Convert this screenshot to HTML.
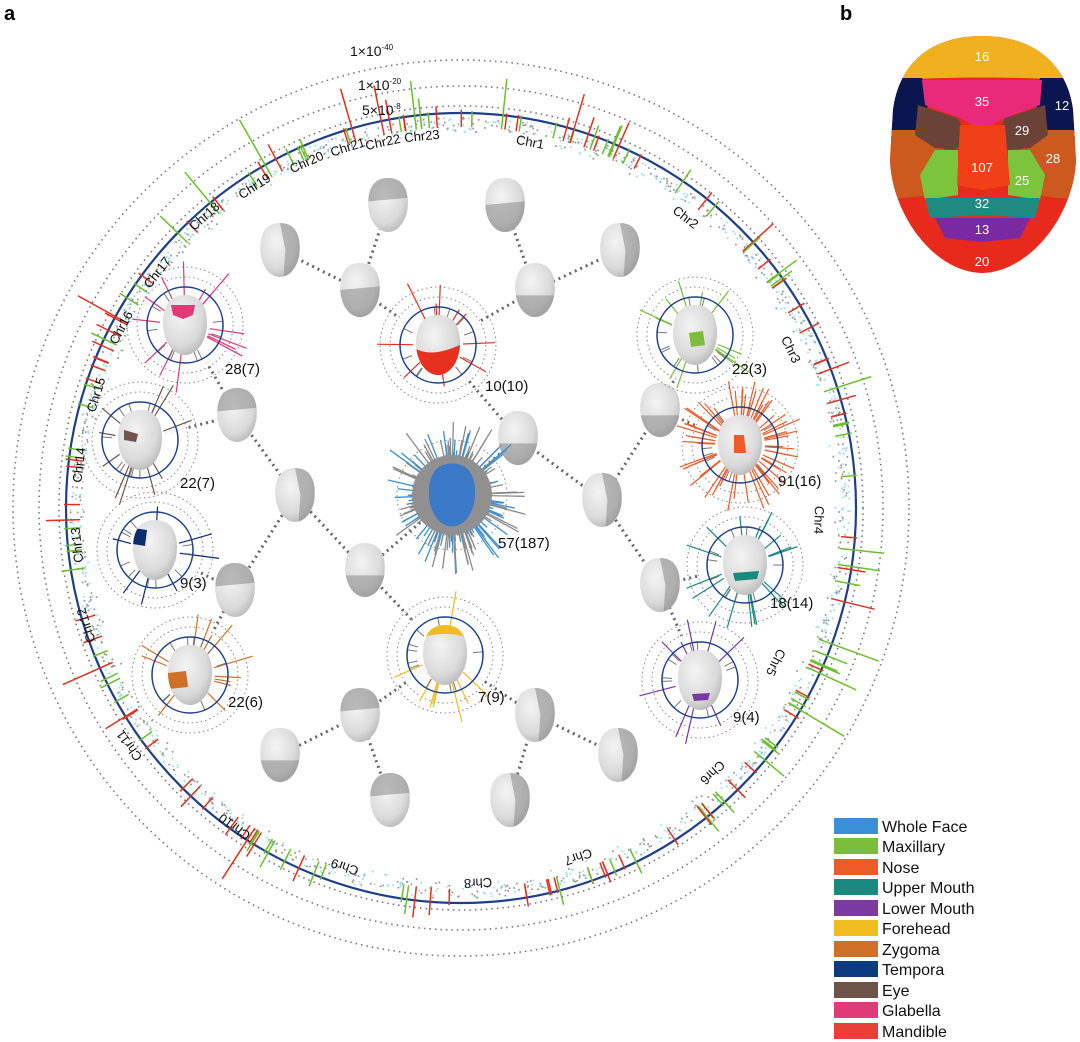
<!DOCTYPE html>
<html><head><meta charset="utf-8">
<style>
html,body{margin:0;padding:0;background:#fff;}
svg{display:block;font-family:"Liberation Sans",sans-serif;}
</style></head>
<body>
<svg id="s" width="1080" height="1042" viewBox="0 0 1080 1042" xmlns="http://www.w3.org/2000/svg">
<defs>
<clipPath id="fc"><path d="M982,36 C1040,36 1068,70 1073,110 L1076,160 C1074,215 1030,272 982,273 C934,272 892,215 890,160 L893,110 C898,70 924,36 982,36Z"/></clipPath>
<clipPath id="hc"><path d="M0,-30 C16,-30 22,-18 22,-2 C22,16 12,30 0,30 C-12,30 -22,16 -22,-2 C-22,-18 -16,-30 0,-30Z"/></clipPath>
<radialGradient id="fg" cx="0.4" cy="0.35" r="0.7"><stop offset="0" stop-color="#f4f4f4"/><stop offset="0.7" stop-color="#dadada"/><stop offset="1" stop-color="#b8b8b8"/></radialGradient>
</defs>
<text x="4" y="20" font-size="20" font-weight="bold">a</text>
<text x="840" y="20" font-size="20" font-weight="bold">b</text>
<g id="ring"></g>
<g id="links" stroke="#666" stroke-width="3" stroke-dasharray="2,4" fill="none"></g>
<g id="nodes"></g>
<g font-size="14" fill="#111">
<text x="350" y="56">1×10<tspan font-size="8" dy="-6">-40</tspan></text>
<text x="358" y="90">1×10<tspan font-size="8" dy="-6">-20</tspan></text>
<text x="362" y="115">5×10<tspan font-size="8" dy="-6">-8</tspan></text>
</g>
<g id="chr" font-size="13" fill="#111"></g>
<g font-size="15" fill="#111">
<text x="485" y="391">10(10)</text>
<text x="498" y="548">57(187)</text>
<text x="225" y="374">28(7)</text>
<text x="180" y="488">22(7)</text>
<text x="180" y="588">9(3)</text>
<text x="228" y="707">22(6)</text>
<text x="478" y="702">7(9)</text>
<text x="732" y="374">22(3)</text>
<text x="778" y="486">91(16)</text>
<text x="770" y="608">18(14)</text>
<text x="733" y="722">9(4)</text>
</g>
<g clip-path="url(#fc)">
<rect x="880" y="30" width="200" height="250" fill="#e82a1c"/>
<path d="M880,30 H1080 V82 C1040,76 925,76 880,82Z" fill="#f0b020"/>
<path d="M880,78 L922,78 L930,95 L920,140 L880,140Z" fill="#0b1550"/>
<path d="M1080,78 L1040,78 L1035,100 L1045,140 L1080,140Z" fill="#0b1550"/>
<path d="M880,130 L918,130 L945,150 L935,195 L880,200Z" fill="#cc5a1e"/>
<path d="M1080,130 L1045,130 L1020,150 L1030,195 L1080,200Z" fill="#cc5a1e"/>
<path d="M922,80 L1042,80 L1040,105 L1005,118 L982,130 L960,118 L925,105Z" fill="#e82a78"/>
<path d="M918,105 L958,118 L968,138 L955,150 L935,148 L915,135Z" fill="#6b4238"/>
<path d="M1045,105 L1005,118 L995,138 L1008,150 L1030,148 L1048,135Z" fill="#6b4238"/>
<path d="M958,150 L935,150 L920,175 L925,200 L958,195Z" fill="#7cc43c"/>
<path d="M1008,150 L1030,150 L1045,175 L1040,200 L1008,195Z" fill="#7cc43c"/>
<path d="M925,198 L1040,198 L1035,218 L982,215 L930,218Z" fill="#1f8a80"/>
<path d="M935,218 L1030,218 L1020,238 L982,242 L945,238Z" fill="#7a2aa0"/>
<path d="M960,125 L1005,125 L1010,185 L982,190 L957,185Z" fill="#f04018"/>
</g>
<g font-size="13" fill="#fff" text-anchor="middle">
<text x="982" y="61">16</text><text x="982" y="106">35</text><text x="1062" y="110">12</text>
<text x="1022" y="135">29</text><text x="1053" y="163">28</text><text x="982" y="172">107</text>
<text x="1022" y="185">25</text><text x="982" y="208">32</text><text x="982" y="234">13</text>
<text x="982" y="266">20</text>
</g>
<g font-size="16" fill="#111">
<rect x="834" y="818" width="44" height="16" fill="#3b8fd6"/><text x="882" y="832">Whole Face</text>
<rect x="834" y="838" width="44" height="16" fill="#7cbd3c"/><text x="882" y="852">Maxillary</text>
<rect x="834" y="859" width="44" height="16" fill="#ee5a28"/><text x="882" y="873">Nose</text>
<rect x="834" y="879" width="44" height="16" fill="#1a8a7e"/><text x="882" y="893">Upper Mouth</text>
<rect x="834" y="900" width="44" height="16" fill="#7a3aa0"/><text x="882" y="914">Lower Mouth</text>
<rect x="834" y="920" width="44" height="16" fill="#f0bc20"/><text x="882" y="934">Forehead</text>
<rect x="834" y="941" width="44" height="16" fill="#d07028"/><text x="882" y="955">Zygoma</text>
<rect x="834" y="961" width="44" height="16" fill="#0c3c80"/><text x="882" y="975">Tempora</text>
<rect x="834" y="982" width="44" height="16" fill="#6e5448"/><text x="882" y="996">Eye</text>
<rect x="834" y="1002" width="44" height="16" fill="#e03a78"/><text x="882" y="1016">Glabella</text>
<rect x="834" y="1023" width="44" height="16" fill="#e84038"/><text x="882" y="1037">Mandible</text>
</g>
</svg>
<script>
(function(){
var NS="http://www.w3.org/2000/svg";
function el(p,t,a){var e=document.createElementNS(NS,t);for(var k in a)e.setAttribute(k,a[k]);p.appendChild(e);return e;}
var seed=7;function r(){seed=(seed*16807)%2147483647;return seed/2147483647;}
var CX=461,CY=508,R=395;
var ring=document.getElementById('ring');
[402,422,448].forEach(function(rr){el(ring,'circle',{cx:CX,cy:CY,r:rr,fill:'none',stroke:'#777','stroke-width':1.6,'stroke-dasharray':'1.5,4'});});
for(var i=0;i<1400;i++){var a=r()*Math.PI*2;var rr=R-4-r()*12*(r()<0.3?1.5:1);
 el(ring,'circle',{cx:CX+rr*Math.cos(a),cy:CY+rr*Math.sin(a),r:1,fill:r()<0.5?'#9adfe8':'#999'});}
el(ring,'circle',{cx:CX,cy:CY,r:R,fill:'none',stroke:'#1d3f8a','stroke-width':2.2});
for(var i=0;i<170;i++){var a=r()*Math.PI*2;var l=2+Math.pow(r(),4)*50;var c=r()<0.5?'#e03020':'#6cbf2c';var c1=Math.cos(a),s1=Math.sin(a);
 el(ring,'line',{x1:CX+(R-14)*c1,y1:CY+(R-14)*s1,x2:CX+(R+l)*c1,y2:CY+(R+l)*s1,stroke:c,'stroke-width':1.5});}
var chr=document.getElementById('chr');
var labs=[['Chr1',530,143],['Chr2',685,218],['Chr3',790,350],['Chr4',818,520],['Chr5',775,662],['Chr6',712,772],['Chr7',578,856],['Chr8',478,882],['Chr9',345,866],['Chr10',235,826],['Chr11',130,745],['Chr12',87,625],['Chr13',78,545],['Chr14',80,465],['Chr15',97,395],['Chr16',122,328],['Chr17',158,273],['Chr18',205,217],['Chr19',255,187],['Chr20',307,163],['Chr21',348,148],['Chr22',383,143],['Chr23',422,137]];
labs.forEach(function(l){var ang=Math.atan2(l[2]-CY,l[1]-CX)*180/Math.PI+90;
 var t=el(chr,'text',{x:l[1],y:l[2],'text-anchor':'middle','dominant-baseline':'middle',transform:'rotate('+ang+' '+l[1]+' '+l[2]+')'});t.textContent=l[0];});
var links=document.getElementById('links');
var E=[[388,205,360,290],[280,250,360,290],[360,290,438,345],[505,205,535,290],[620,250,535,290],[535,290,438,345],[438,345,518,438],[518,438,602,500],[602,500,660,410],[660,410,695,335],[660,410,740,445],[602,500,660,585],[660,585,745,565],[660,585,700,680],[518,438,452,495],
[452,495,365,570],[365,570,295,495],[295,495,237,415],[237,415,185,325],[237,415,140,440],[295,495,235,590],[235,590,155,550],[235,590,190,675],[365,570,445,655],[445,655,360,715],[360,715,280,755],[360,715,390,800],[445,655,535,715],[535,715,618,755],[535,715,510,800]];
E.forEach(function(e){el(links,'line',{x1:e[0],y1:e[1],x2:e[2],y2:e[3]});});
var nodes=document.getElementById('nodes');
var FACE='M0,-30 C16,-30 22,-18 22,-2 C22,16 12,30 0,30 C-12,30 -22,16 -22,-2 C-22,-18 -16,-30 0,-30Z';
var P={mand:'M-22,4 C-10,10 4,8 22,0 L22,30 L-22,30Z',
glab:'M-14,-20 L10,-20 L8,-10 L-2,-6 L-12,-10Z',
eye:'M-16,-10 L-2,-6 L-4,2 L-16,0Z',
temp:'M-22,-22 L-8,-20 L-10,-4 L-22,-6Z',
zyg:'M-22,-2 L-4,-4 L-2,12 L-22,14Z',
fore:'M-22,-40 L22,-40 L22,-18 C8,-22 -8,-22 -22,-18Z',
maxi:'M-6,-2 L8,-4 L10,10 L-4,12Z',
nose:'M-6,-10 L4,-10 L6,8 L-6,8Z',
um:'M-12,8 L14,6 L12,14 L-10,16Z',
lm:'M-8,14 L10,13 L8,20 L-6,21Z'};
function face(x,y,s,key,col){var g=el(nodes,'g',{transform:'translate('+x+','+y+') scale('+s+')'});
 el(g,'path',{d:FACE,fill:'url(#fg)'});
 var gg=el(g,'g',{'clip-path':'url(#hc)'});
 if(key) el(gg,'path',{d:P[key],fill:col});
 else { var d=['M-22,0 L22,-4 L22,30 L-22,30Z','M0,-30 L22,-30 L22,30 L4,30 L6,0Z','M-22,-30 L22,-30 L22,-8 L-22,-4Z','M-22,6 L22,6 L22,30 L-22,30Z'][Math.floor(r()*4)];
  el(gg,'path',{d:d,fill:'#8a8a8a',opacity:0.55}); }
 return g;}
var greys=[[388,205],[280,250],[360,290],[505,205],[620,250],[535,290],[518,438],[602,500],[660,410],[660,585],[295,495],[237,415],[235,590],[365,570],[360,715],[280,755],[390,800],[535,715],[618,755],[510,800]];
greys.forEach(function(p){face(p[0],p[1],0.9);});
var circ=[[438,345,'#e83020',10,'mand'],[185,325,'#e03a78',14,'glab'],[140,440,'#6e5448',10,'eye'],[155,550,'#0c2c70',7,'temp'],[190,675,'#d07028',12,'zyg'],[445,655,'#f0bc20',9,'fore'],[695,335,'#7cbd3c',12,'maxi'],[740,445,'#ee5a28',60,'nose'],[745,565,'#1a8a7e',18,'um'],[700,680,'#7a3aa0',9,'lm']];
circ.forEach(function(c){var x=c[0],y=c[1];
 el(nodes,'circle',{cx:x,cy:y,r:58,fill:'none',stroke:'#888','stroke-width':1,'stroke-dasharray':'1.5,3'});
 el(nodes,'circle',{cx:x,cy:y,r:48,fill:'#fff','fill-opacity':0.9,stroke:'#888','stroke-width':1,'stroke-dasharray':'1.5,3'});
 for(var i=0;i<c[3];i++){var a=r()*Math.PI*2,l=5+r()*28;el(nodes,'line',{x1:x+25*Math.cos(a),y1:y+25*Math.sin(a),x2:x+(36+l)*Math.cos(a),y2:y+(36+l)*Math.sin(a),stroke:c[2],'stroke-width':1.2});}
 for(var i=0;i<10;i++){var a=r()*Math.PI*2;el(nodes,'line',{x1:x+28*Math.cos(a),y1:y+28*Math.sin(a),x2:x+38*Math.cos(a),y2:y+38*Math.sin(a),stroke:'#777','stroke-width':1});}
 el(nodes,'circle',{cx:x,cy:y,r:38,fill:'none',stroke:'#1d3f8a','stroke-width':1.5});
 face(x,y,1,c[4],c[2]);});
var x=452,y=495;
el(nodes,'circle',{cx:x,cy:y,r:55,fill:'none',stroke:'#888','stroke-width':1,'stroke-dasharray':'1.5,3'});
for(var i=0;i<200;i++){var a=r()*Math.PI*2,l=6+Math.pow(r(),2)*40;el(nodes,'line',{x1:x,y1:y,x2:x+(30+l)*Math.cos(a),y2:y+(34+l)*Math.sin(a),stroke:r()<0.5?'#8a8a8a':'#3d8fd0','stroke-width':1.3});}
el(nodes,'circle',{cx:x,cy:y,r:40,fill:'#909090'});
var g=el(nodes,'g',{transform:'translate('+x+','+y+') scale(1.05)'});
el(g,'path',{d:FACE,fill:'#3a78c8'});
})();
</script>
</body></html>
